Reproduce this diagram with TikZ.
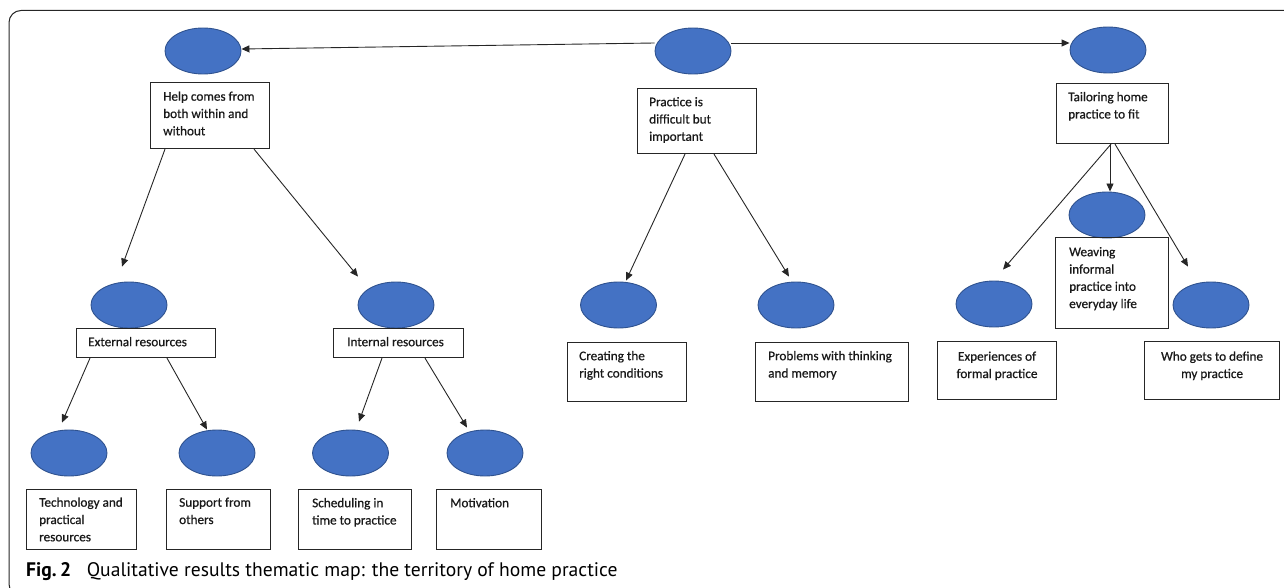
\documentclass[tikz,border=0pt]{standalone}
\usepackage{fontspec}
\setmainfont{Carlito}
\newfontfamily\boxfont{Carlito}[FakeBold=0.7]
\newfontfamily\capfont{PT Sans}
\usetikzlibrary{arrows.meta,shapes.geometric,calc}
\definecolor{ovalfill}{HTML}{4472C4}
\definecolor{ovalline}{HTML}{2F528F}
\definecolor{linegray}{HTML}{262626}
\begin{document}
\begin{tikzpicture}[x=1pt,y=-1pt,
  oval/.style={ellipse, draw=ovalline, fill=ovalfill, line width=0.9pt, minimum width=76pt, minimum height=46pt, inner sep=0pt},
  boxnode/.style={draw=linegray, line width=1.1pt, rectangle, inner sep=0pt, anchor=north west},
  lbl/.style={anchor=north west, inner sep=0pt, align=left, text=black!90, font=\boxfont\fontsize{13.2}{17.3}\selectfont},
  clbl/.style={anchor=north, inner sep=0pt, align=center, text=black!90, font=\boxfont\fontsize{13.2}{17.3}\selectfont},
  arr/.style={-{Triangle[length=8pt,width=7pt]}, line width=0.9pt, draw=linegray}
]
\useasboundingbox (0,0) rectangle (1284,588);
\begin{scope}
  \clip (0,0) rectangle (1284,588);
  \draw[rounded corners=12pt, line width=1pt, draw=linegray] (1300,10.5) -- (9,10.5) -- (9,596) -- (1300,596);
\end{scope}

% top level ellipses
\node[oval] (e1) at (203,51) {};
\node[oval] (e2) at (693,51) {};
\node[oval] (e3) at (1108,50) {};

% top level boxes
\node[boxnode, minimum width=119pt, minimum height=66pt] (hb) at (150,82) {};
\node[lbl] (hbt) at ([xshift=13pt]hb.north west) {\rule{0pt}{18.5pt}Help comes from\\both within and\\without};
\node[boxnode, minimum width=119pt, minimum height=65pt] (pb) at (637,88) {};
\node[lbl] (pbt) at ([xshift=12pt]pb.north west) {\rule{0pt}{18pt}Practice is\\difficult but\\important};
\node[boxnode, minimum width=112pt, minimum height=60pt] (tb) at (1056,83) {};
\node[lbl] (tbt) at ([xshift=12pt]tb.north west) {\rule{0pt}{18pt}Tailoring home\\practice to fit};

% second level
\node[oval] (ext) at (129,305) {};
\node[oval] (int) at (396,305) {};
\node[boxnode, minimum width=139pt, minimum height=29pt] (eb) at (76,328) {};
\node[lbl] (ebt) at ([xshift=12pt]eb.north west) {\rule{0pt}{18pt}External resources};
\node[boxnode, minimum width=130pt, minimum height=29pt] (ib) at (333,328) {};
\node[lbl] (ibt) at ([xshift=14pt]ib.north west) {\rule{0pt}{18pt}Internal resources};

\node[oval] (cre) at (618.5,305) {};
\node[oval] (prb) at (796,305) {};
\node[boxnode, minimum width=119pt, minimum height=59pt] (cb) at (567,342) {};
\node[lbl] (cbt) at ([xshift=12pt]cb.north west) {\rule{0pt}{18pt}Creating the\\right conditions};
\node[boxnode, minimum width=153pt, minimum height=59pt] (rb) at (755,342) {};
\node[lbl] (rbt) at ([xshift=13pt]rb.north west) {\rule{0pt}{18pt}Problems with thinking\\and memory};

\node[oval] (wv) at (1107,215) {};
\node[boxnode, minimum width=113pt, minimum height=91pt] (wb) at (1055,237) {};
\node[lbl] (wbt) at ([xshift=14pt]wb.north west) {\rule{0pt}{19pt}Weaving\\informal\\practice into\\everyday life};
\node[oval] (exo) at (994,304) {};
\node[boxnode, minimum width=119pt, minimum height=58pt] (xb) at (937,341) {};
\node[clbl] (xbt) at (xb.north) {\rule{0pt}{19.5pt}Experiences of\\formal practice};
\node[oval] (who) at (1211,305) {};
\node[boxnode, minimum width=135pt, minimum height=58pt] (wob) at (1144,341) {};
\node[clbl] (wobt) at (wob.north) {\rule{0pt}{19.5pt}Who gets to define\\my practice};

% third level
\node[oval] (tech) at (69,453) {};
\node[oval] (sup) at (217,453) {};
\node[oval] (sch) at (350.5,453) {};
\node[oval] (mot) at (485,453) {};
\node[boxnode, minimum width=110pt, minimum height=60pt] (tcb) at (26,489) {};
\node[lbl] (tcbt) at ([xshift=13pt]tcb.north west) {\rule{0pt}{17.5pt}Technology and\\practical\\resources};
\node[boxnode, minimum width=104pt, minimum height=60pt] (sub) at (166,489) {};
\node[lbl] (subt) at ([xshift=13pt]sub.north west) {\rule{0pt}{17.5pt}Support from\\others};
\node[boxnode, minimum width=113pt, minimum height=60pt] (scb) at (298,489) {};
\node[lbl] (scbt) at ([xshift=14pt]scb.north west) {\rule{0pt}{18pt}Scheduling in\\time to practice};
\node[boxnode, minimum width=105pt, minimum height=60pt] (mob) at (436,489) {};
\node[lbl] (mobt) at ([xshift=14pt]mob.north west) {\rule{0pt}{18pt}Motivation};

% connectors
\draw[arr] ([yshift=8pt]e2.west) -- ([yshift=2pt]e1.east);
\draw[arr] ([yshift=8pt]e2.east) -- ([yshift=7pt]e3.west);

\draw[arr] ([xshift=15pt]hb.south west) -- ([shift={(-7,-15)}]ext.north);
\draw[arr] ([xshift=104pt]hb.south west) -- ([shift={(-38,-5)}]int.north);
\draw[arr] ([xshift=14pt]eb.south west) -- ([shift={(-7,-7)}]tech.north);
\draw[arr] ([xshift=91pt]eb.south west) -- ([shift={(-10,0)}]sup.north);
\draw[arr] ([xshift=49pt]ib.south west) -- ([shift={(8.5,-8)}]sch.north);
\draw[arr] ([xshift=92pt]ib.south west) -- ([shift={(-18,-2)}]mot.north);
\draw[arr] ([xshift=48pt]pb.south west) -- ([shift={(7.5,-1)}]cre.north);
\draw[arr] ([xshift=77pt]pb.south west) -- ([shift={(-7,-5)}]prb.north);
\draw[arr] ([xshift=55pt]tb.south west) -- ([shift={(9,-11)}]exo.north);
\draw[arr] ([xshift=54pt]tb.south west) -- ([shift={(3,0)}]wv.north);
\draw[arr] ([xshift=59pt]tb.south west) -- ([shift={(-23,-15)}]who.north);

% caption
\node[anchor=base west, inner sep=0pt] (cap) at (26,576) {\capfont\fontsize{19.6}{22}\selectfont\textbf{Fig.\,2}\hspace{0.8em}Qualitative results thematic map: the territory of home practice};
\end{tikzpicture}
\end{document}
